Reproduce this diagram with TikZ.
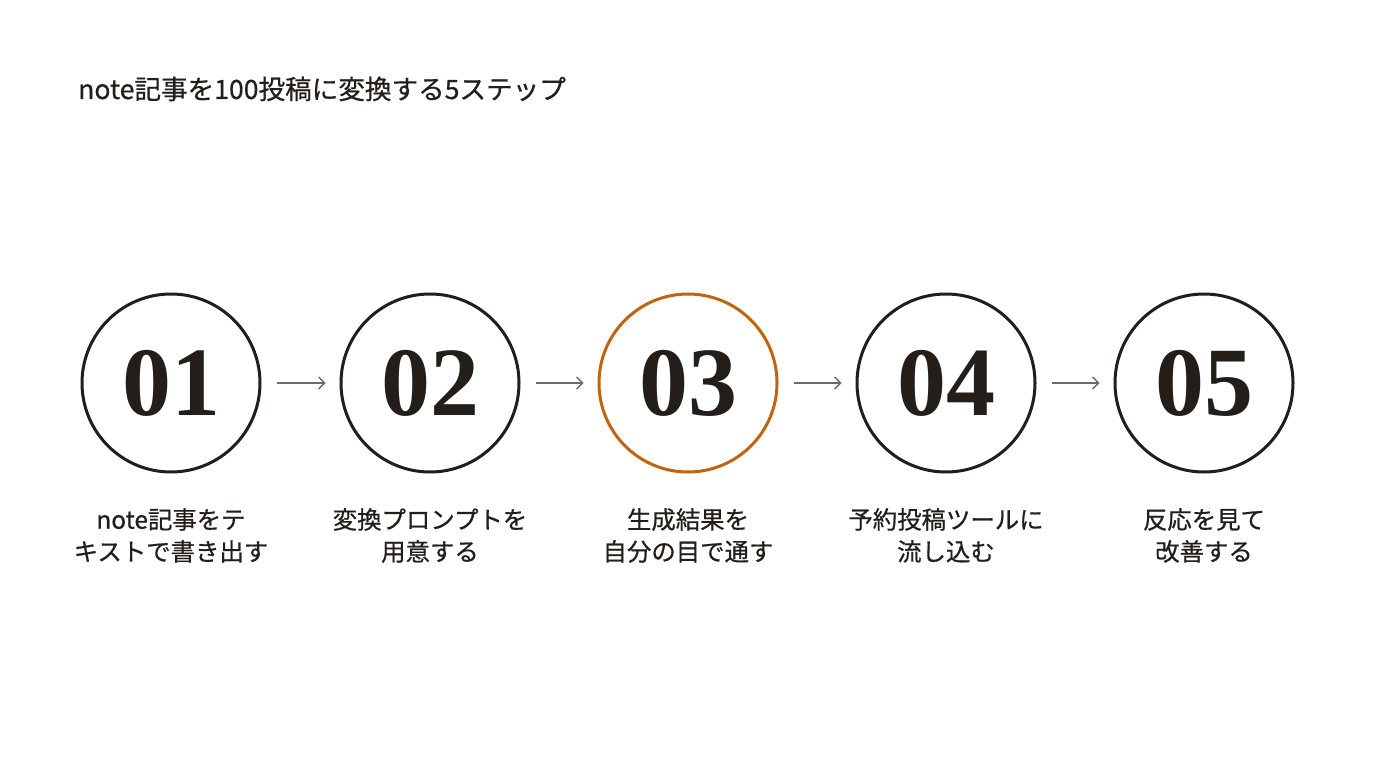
\documentclass[tikz,border=0pt]{standalone}
\usepackage{fontspec}
\usetikzlibrary{arrows.meta}
\newfontfamily\jpfont{Noto Sans CJK JP}
\newfontfamily\jpmed{Noto Sans CJK JP}[FakeBold=0.6]
\newfontfamily\numfont{Liberation Serif}
\definecolor{ink}{HTML}{231E19}
\definecolor{accent}{HTML}{C0650F}
\definecolor{arrowgray}{HTML}{6E6A66}
\tikzset{
  stepcircle/.style={circle, draw=ink, line width=3pt, minimum size=178pt, inner sep=0pt,
    text=ink, font=\numfont\bfseries\fontsize{98}{98}\selectfont},
  hilite/.style={draw=accent},
  steplabel/.style={text=ink, align=center, anchor=north, inner sep=0pt,
    font=\jpmed\fontsize{24.4}{32}\selectfont},
  flow/.style={draw=arrowgray, line width=1.3pt, -{Straight Barb[length=6pt,width=12pt,line width=1.3pt]}},
}
\begin{document}
\begin{tikzpicture}[x=1pt,y=-1pt]
\useasboundingbox[fill=white] (0,0) rectangle (1376,768);
\node[anchor=base west, inner sep=0pt, text=ink, font=\jpmed\fontsize{26.6}{30}\selectfont] (title) at (78,99) {note記事を100投稿に変換する5ステップ};

\node[stepcircle] (c1) at (171,383) {01};
\node[stepcircle] (c2) at (430,383) {02};
\node[stepcircle,hilite] (c3) at (688,383) {03};
\node[stepcircle] (c4) at (946,383) {04};
\node[stepcircle] (c5) at (1204,383) {05};

\foreach \a/\b in {c1/c2,c2/c3,c3/c4,c4/c5}{
  \draw[flow] ([xshift=15pt]\a.east) -- ([xshift=-14pt]\b.west);
}

\node[steplabel] (l1) at (171,508) {note記事をテ\\キストで書き出す};
\node[steplabel] (l2) at (430,508) {変換プロンプトを\\用意する};
\node[steplabel] (l3) at (688,508) {生成結果を\\自分の目で通す};
\node[steplabel] (l4) at (946,508) {予約投稿ツールに\\流し込む};
\node[steplabel] (l5) at (1204,508) {反応を見て\\改善する};
\end{tikzpicture}
\end{document}
